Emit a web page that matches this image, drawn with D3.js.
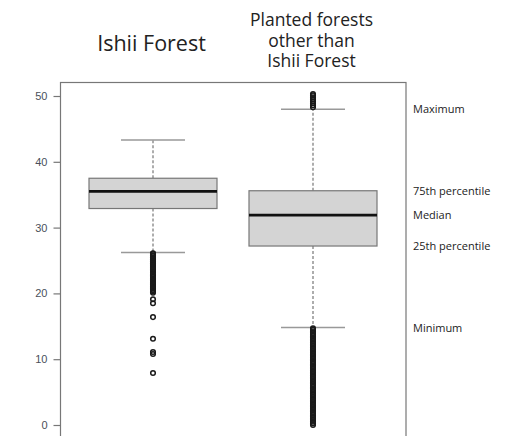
<!DOCTYPE html>
<html>
<head>
<meta charset="utf-8">
<script src="https://cdn.jsdelivr.net/npm/d3@7"></script>
<style>
  html, body { margin: 0; padding: 0; background: #fff; }
  svg { display: block; }
</style>
</head>
<body>
<svg id="chart" width="515" height="436"></svg>
<script>
// Groups compared
const categories = ["Ishii Forest", "Planted forests other than Ishii Forest"];
const titleLines = [["Ishii Forest"], ["Planted forests", "other than", "Ishii Forest"]];

// Box statistics per group: lower whisker, Q1, median, Q3, upper whisker
const whiskerLow = [26.2, 14.8];
const q1 = [32.9, 27.2];
const median = [35.5, 31.9];
const q3 = [37.5, 35.6];
const whiskerHigh = [43.3, 48.0];

// Outlying observations
const outliersIshii = [
  26.1, 26.0, 25.8, 25.7, 25.5, 25.4, 25.2, 25.1, 24.9, 24.8, 24.6, 24.5,
  24.3, 24.2, 24.0, 23.9, 23.7, 23.6, 23.4, 23.2, 22.9, 22.7, 22.5, 22.3,
  22.1, 21.9, 21.7, 21.5, 21.3, 21.1, 20.9, 20.7, 20.5, 20.3, 20.1,
  19.1, 18.5, 16.4, 13.1, 11.1, 10.8, 7.9
];
const outliersOther = [
  48.3, 48.6, 48.9, 49.2, 49.5, 49.8, 50.1, 50.3,
  14.7, 14.5, 14.25, 14.0, 13.75, 13.5, 13.25, 13.0, 12.75, 12.5, 12.25, 12.0,
  11.75, 11.5, 11.25, 11.0, 10.75, 10.5, 10.25, 10.0, 9.75, 9.5, 9.25, 9.0,
  8.75, 8.5, 8.25, 8.0, 7.75, 7.5, 7.25, 7.0, 6.75, 6.5, 6.25, 6.0,
  5.75, 5.5, 5.25, 5.0, 4.75, 4.5, 4.25, 4.0, 3.75, 3.5, 3.25, 3.0,
  2.75, 2.5, 2.25, 2.0, 1.75, 1.5, 1.25, 1.0, 0.75, 0.5, 0.25, 0.0
];
const outliers = [outliersIshii, outliersOther];

// Y axis ticks
const yTicks = [0, 10, 20, 30, 40, 50];

// Labels describing the parts of a box
const statLabels = ["Maximum", "75th percentile", "Median", "25th percentile", "Minimum"];
const statValues = [whiskerHigh[1], q3[1], median[1], q1[1], whiskerLow[1]];

const svg = d3.select("#chart");

const y = d3.scaleLinear().domain([0, 50]).range([425, 96]);
const x = d3.scaleBand().domain(categories).range([73, 393]).paddingInner(0).paddingOuter(0);
const boxW = x.bandwidth() * 0.8;
const capW = boxW * 0.5;
const cx = c => x(c) + x.bandwidth() / 2;

// Plot frame
svg.append("rect")
  .attr("x", 60.5).attr("y", 82.5)
  .attr("width", 345.5).attr("height", 400)
  .attr("fill", "none").attr("stroke", "#777").attr("stroke-width", 1.2);

// Y axis
const yAxis = d3.axisLeft(y).tickValues(yTicks).tickSize(7).tickPadding(6);
const gAxis = svg.append("g").attr("transform", "translate(60.5,0)").call(yAxis);
gAxis.select(".domain").remove();
gAxis.selectAll(".tick line").attr("stroke", "#777").attr("stroke-width", 1.2);
gAxis.selectAll(".tick text")
  .attr("fill", "#4a4f5a")
  .style("font-family", "'Liberation Sans', Arial, sans-serif")
  .style("font-size", "11px");

// Boxes
categories.forEach((c, i) => {
  const g = svg.append("g");
  const mx = cx(c);

  // whiskers
  g.append("line")
    .attr("x1", mx).attr("x2", mx)
    .attr("y1", y(q3[i])).attr("y2", y(whiskerHigh[i]))
    .attr("stroke", "#777").attr("stroke-width", 1.2).attr("stroke-dasharray", "3,2");
  g.append("line")
    .attr("x1", mx).attr("x2", mx)
    .attr("y1", y(q1[i])).attr("y2", y(whiskerLow[i]))
    .attr("stroke", "#777").attr("stroke-width", 1.2).attr("stroke-dasharray", "3,2");

  // caps
  [whiskerHigh[i], whiskerLow[i]].forEach(v => {
    g.append("line")
      .attr("x1", mx - capW / 2).attr("x2", mx + capW / 2)
      .attr("y1", y(v)).attr("y2", y(v))
      .attr("stroke", "#999").attr("stroke-width", 1.5);
  });

  // box
  g.append("rect")
    .attr("x", mx - boxW / 2).attr("width", boxW)
    .attr("y", y(q3[i])).attr("height", y(q1[i]) - y(q3[i]))
    .attr("fill", "#d4d4d4").attr("stroke", "#777").attr("stroke-width", 1.2);

  // median
  g.append("line")
    .attr("x1", mx - boxW / 2).attr("x2", mx + boxW / 2)
    .attr("y1", y(median[i])).attr("y2", y(median[i]))
    .attr("stroke", "#111").attr("stroke-width", 2.8);

  // outliers
  g.selectAll("circle.out")
    .data(outliers[i])
    .join("circle")
    .attr("class", "out")
    .attr("cx", mx).attr("cy", d => y(d))
    .attr("r", 2.3)
    .attr("fill", "none").attr("stroke", "#1a1a1a").attr("stroke-width", 1.5);
});

// Group titles above the plot
const titleSizes = [21.5, 17.5];
const titleBase = [[51], [26, 46.5, 66.5]];
categories.forEach((c, i) => {
  const t = svg.append("text")
    .attr("text-anchor", "middle")
    .attr("fill", "#222")
    .style("font-family", "'Open Sans', sans-serif")
    .style("font-size", titleSizes[i] + "px");
  titleLines[i].forEach((line, j) => {
    t.append("tspan").attr("x", cx(c) - 1.5).attr("y", titleBase[i][j]).text(line);
  });
});

// Annotations for the box parts
svg.selectAll("text.stat")
  .data(statLabels)
  .join("text")
  .attr("class", "stat")
  .attr("x", 413)
  .attr("y", (d, i) => y(statValues[i]) + 4)
  .attr("fill", "#222")
  .style("font-family", "'Open Sans', sans-serif")
  .style("font-size", "11px")
  .text(d => d);
</script>
</body>
</html>
